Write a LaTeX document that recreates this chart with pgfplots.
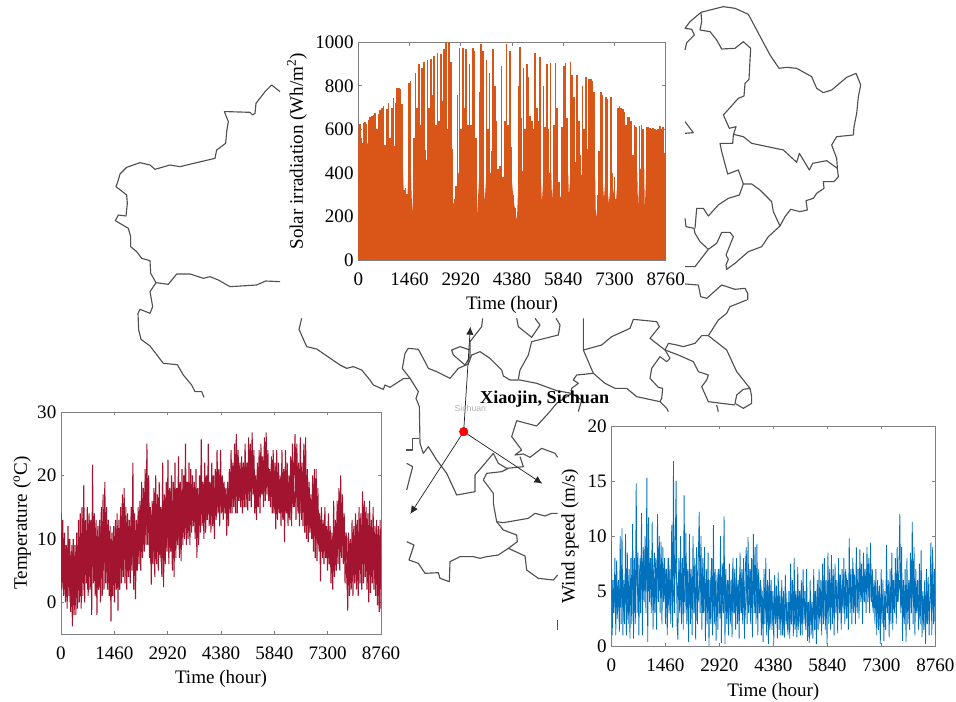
\documentclass[border=0pt]{standalone}
\usepackage{pgfplots}
\pgfplotsset{compat=1.18}
\usepackage{fontspec}
\setmainfont{Liberation Serif}
\newfontfamily\sansf{Liberation Sans}
\usetikzlibrary{arrows.meta}
\definecolor{mapc}{HTML}{505050}
\definecolor{axc}{HTML}{808080}
\definecolor{solarc}{HTML}{DA5518}
\definecolor{tempc}{HTML}{A2142F}
\definecolor{windc}{HTML}{0072BD}
\pgfplotsset{
 mp/.style={mapc,solid,line width=0.85pt,no markers,line join=round},
 mapaxis/.style={hide axis,scale only axis,clip=false,width=717pt,height=526.5pt,y dir=reverse,
   anchor=south west,at={(0pt,0pt)}},
 chart/.style={scale only axis,anchor=south west,xmin=0,xmax=8760,
   xtick={0,1460,2920,4380,5840,7300,8760},
   xticklabel style={/pgf/number format/fixed,/pgf/number format/1000 sep={},/pgf/number format/assume math mode=true,yshift=-6pt},
   yticklabel style={/pgf/number format/fixed,/pgf/number format/1000 sep={},/pgf/number format/assume math mode=true},
   scaled ticks=false,
   tick align=inside,major tick length=2.6pt,
   axis line style={axc,line width=0.6pt},
   tick style={axc,line width=0.5pt},
   tick label style={font=\fontsize{14.3}{16}\selectfont,black},
   label style={font=\fontsize{14.3}{16}\selectfont,black},
   xlabel={Time (hour)},
   xlabel style={at={(axis description cs:0.5,0)},yshift=-24pt,anchor=north},
   clip=true,
   axis background/.style={fill=white}}
}
\begin{document}
\begin{tikzpicture}
\path[use as bounding box] (0,0) rectangle (717pt,526.5pt);
% --- map, west part (coordinates: crop 100,70 at 3x)
\begin{axis}[mapaxis,xmin=-300,xmax=2568,ymin=-210,ymax=1896]
\addplot[mp] coordinates {(540,65)(515,45)(495,65)(468,100)(465,130)(458,135)(450,127)(385,125)(373,125)(385,155)(380,185)(377,220)(350,240)(345,265)(290,278)(240,290)(210,285)(165,298)(150,285)(120,278)(80,292)(60,312)(55,330)(48,350)(80,375)(82,400)(78,438)(55,435)(46,452)(85,475)(92,500)(92,530)(110,545)(125,565)(150,572)(152,610)(168,638)};
\addplot[mp] coordinates {(168,638)(205,643)(230,612)(270,612)(310,625)(330,620)(355,630)(390,650)(470,645)(497,633)(540,635)};
\addplot[mp] coordinates {(168,638)(150,665)(158,710)(150,730)(120,718)(114,730)(116,780)(123,808)(150,828)(190,880)(232,884)(250,915)(275,945)(285,965)(305,965)(312,982)};
\end{axis}
% --- map, north-east part (crop 680,0 at 3x)
\begin{axis}[mapaxis,xmin=-2040,xmax=828,ymin=0,ymax=2106]
\addplot[mp] coordinates {(15,150)(20,128)(43,105)(35,88)(15,85)(30,65)(63,37)(90,30)(130,20)(165,25)(205,43)(230,90)(270,165)(297,205)(320,202)(350,205)(395,230)(410,265)(430,278)(455,270)(500,232)(528,220)(542,255)(535,290)(530,340)(522,380)(520,405)(470,410)(455,435)(470,475)(472,505)(475,530)(462,545)(430,545)(432,565)(410,580)(400,595)(378,602)(382,630)(360,635)(332,628)(315,650)(300,678)(265,710)(245,740)(205,755)(165,790)(140,808)(138,795)(145,778)(138,765)(160,710)(150,697)(125,697)(110,730)(85,748)(60,725)(45,700)(42,685)(18,680)(15,655)};
\addplot[mp] coordinates {(63,37)(65,65)(60,90)(90,95)(110,120)(125,147)(165,145)(190,125)(212,145)(210,180)(207,238)(195,250)(192,288)(175,295)(130,345)(148,385)(168,380)(160,405)(158,430)(120,430)(125,455)(143,522)(175,510)(190,552)(178,585)(145,595)(115,615)(85,648)(70,625)(50,625)(45,685)};
\addplot[mp] coordinates {(160,403)(190,410)(215,430)(310,450)(350,487)(358,460)(388,510)(398,490)(440,482)(472,505)};
\addplot[mp] coordinates {(190,552)(215,552)(240,570)(275,605)(280,635)(300,678)};
\addplot[mp] coordinates {(85,748)(45,800)(15,800)};
\addplot[mp] coordinates {(15,365)(40,398)(15,400)};
\addplot[mp] coordinates {(15,852)(55,855)(62,890)(80,895)(125,855)(165,868)(195,865)(203,880)(203,900)};
\end{axis}
% --- map, centre (crop 290,300 at 3x)
\begin{axis}[mapaxis,xmin=-870,xmax=1998,ymin=-900,ymax=1206]
\addplot[mp] coordinates {(35,55)(27,88)(50,140)(80,147)(150,195)(170,205)(190,200)(215,210)(240,240)(250,255)(280,268)(285,255)(300,262)(340,236)(360,235)};
\addplot[mp] coordinates {(360,235)(337,205)(345,160)(355,145)(385,148)(405,185)(415,205)(440,215)(480,235)(505,205)(535,192)(545,165)(570,155)(600,175)(635,210)(640,228)(660,240)(690,240)(740,250)(800,272)(845,280)(800,310)(775,340)(740,378)(680,362)(665,410)(695,450)(675,465)(700,462)(720,472)(755,445)(795,460)(803,472)};
\addplot[mp] coordinates {(360,235)(385,275)(378,295)(388,320)(390,430)(400,460)(415,440)(440,480)(470,520)(500,585)(555,575)(555,525)(585,490)(610,460)(625,490)(650,505)(700,500)(690,470)};
\addplot[mp] coordinates {(348,450)(368,450)(368,415)(388,415)};
\addplot[mp] coordinates {(350,490)(368,500)(350,570)};
\addplot[mp] coordinates {(655,505)(635,515)(590,520)(580,540)(610,580)(610,610)(620,665)(640,668)(715,655)(735,640)(765,648)(785,640)(803,640)};
\addplot[mp] coordinates {(620,665)(640,690)(680,705)(682,725)(655,745)(625,765)(590,770)(570,775)(550,770)(510,770)(480,785)(478,845)(450,835)(445,818)(405,820)(385,790)(357,780)(372,735)(350,725)};
\addplot[mp] coordinates {(655,745)(705,768)(710,810)(745,835)(790,840)(803,825)};
\addplot[mp] coordinates {(578,55)(575,80)(540,125)(540,170)(525,195)(490,165)(485,150)(510,140)(540,150)};
\addplot[mp] coordinates {(680,55)(685,80)(725,112)(750,75)(735,55)};
\addplot[mp] coordinates {(798,55)(810,75)(805,105)(725,125)(715,165)(690,210)(685,238)};
\addplot[mp] coordinates {(880,55)(880,150)(935,135)(965,110)(1020,85)(1030,58)(1100,65)(1108,80)(1080,115)(1125,150)(1135,130)(1160,135)(1180,140)(1215,130)(1235,107)(1255,107)(1310,150)(1340,215)(1380,265)(1385,290)(1385,310)(1360,325)(1335,310)(1340,285)(1360,268)(1380,265)};
\addplot[mp] coordinates {(880,150)(910,220)(945,250)(975,265)(1010,265)(1040,290)(1110,305)(1130,325)(1135,335)};
\addplot[mp] coordinates {(910,220)(860,225)(850,240)(865,250)(845,265)(845,280)(875,300)(865,335)};
\addplot[mp] coordinates {(1125,150)(1140,175)(1130,185)(1110,170)(1085,205)(1080,235)(1105,262)(1118,265)(1115,295)(1110,305)};
\addplot[mp] coordinates {(1125,150)(1165,165)(1210,185)(1225,215)(1255,225)(1250,240)(1235,260)(1255,305)(1335,315)};
\addplot[mp] coordinates {(1280,315)(1285,335)};
\addplot[mp] coordinates {(1255,107)(1285,60)(1310,40)(1320,20)(1370,0)};
\addplot[mp] coordinates {(802,960)(802,990)};
% arrows and site
\addplot[black!85,line width=0.55pt,-{Latex[length=6pt,width=5.5pt]}] coordinates {(521,395)(541,80)};
\addplot[black!85,line width=0.55pt,-{Latex[length=6pt,width=5.5pt]}] coordinates {(521,395)(361,642)};
\addplot[black!85,line width=0.55pt,-{Latex[length=6pt,width=5.5pt]}] coordinates {(521,395)(757,551)};
\addplot[only marks,mark=*,mark size=3.2pt,mark options={fill=red,draw=red}] coordinates {(521,395)};
\node[font=\fontsize{6.5}{8}\sansf,text=gray!60] at (axis cs:541,325) {Sichuan};
\node[font=\fontsize{13.6}{15}\bfseries\selectfont,text=black] at (axis cs:764,298) {Xiaojin, Sichuan};
\end{axis}
% --- solar irradiation
\begin{axis}[chart,at={(268.7pt,331.5pt)},width=230.6pt,height=163.3pt,ymin=0,ymax=1000,ytick={0,200,400,600,800,1000},
 ylabel={Solar irradiation (Wh/m\textsuperscript{2})},ylabel style={at={(axis description cs:0,0.5)},yshift=35pt,anchor=south}]
\addplot[solarc,fill=solarc,draw=none,no markers] coordinates {(0,540)(1250,520)(1300,290)(1400,290)(1450,480)(1500,400)(1540,200)(1590,450)(2650,480)(2700,260)(2800,260)(2850,400)(3300,430)(3380,190)(3450,400)(3570,400)(3600,260)(3650,400)(3950,400)(4000,380)(4130,360)(4200,400)(4350,420)(4420,280)(4520,180)(4570,400)(5000,430)(5200,400)(5230,260)(5280,400)(5500,400)(5520,270)(5570,400)(5700,340)(5780,270)(5850,400)(5980,400)(6000,290)(6050,400)(6750,380)(6770,190)(6850,280)(6950,400)(7000,280)(7050,400)(7140,260)(7200,370)(7340,260)(7400,400)(7950,400)(7970,240)(8020,420)(8150,420)(8160,220)(8210,430)(8760,450)(8760,0)(0,0)};
\addplot[ycomb,solarc,line width=1.2pt,no markers] coordinates {(0,620)(48,625)(96,560)(144,630)(192,632)(240,625)(288,645)(336,655)(384,660)(432,665)(480,675)(528,600)(576,670)(624,690)(672,700)(720,705)(768,500)(816,695)(864,720)(912,560)(960,700)(1008,745)(1056,720)(1104,790)(1152,790)(1200,785)(1248,715)(1296,320)(1344,330)(1392,305)(1440,815)(1488,820)(1536,230)(1584,560)(1632,860)(1680,700)(1728,900)(1776,620)(1824,880)(1872,910)(1920,505)(1968,920)(2016,700)(2064,925)(2112,760)(2160,935)(2208,620)(2256,950)(2304,640)(2352,945)(2400,730)(2448,970)(2496,1000)(2544,600)(2592,1000)(2640,910)(2688,510)(2736,280)(2784,340)(2832,760)(2880,975)(2928,600)(2976,975)(3024,700)(3072,970)(3120,620)(3168,900)(3216,620)(3264,975)(3312,960)(3360,560)(3408,210)(3456,770)(3504,990)(3552,960)(3600,280)(3648,920)(3696,600)(3744,860)(3792,500)(3840,970)(3888,800)(3936,640)(3984,420)(4032,430)(4080,890)(4128,380)(4176,640)(4224,990)(4272,620)(4320,960)(4368,520)(4416,300)(4464,240)(4512,190)(4560,800)(4608,980)(4656,650)(4704,880)(4752,600)(4800,900)(4848,840)(4896,660)(4944,640)(4992,600)(5040,950)(5088,700)(5136,640)(5184,930)(5232,280)(5280,800)(5328,610)(5376,900)(5424,600)(5472,905)(5520,290)(5568,620)(5616,905)(5664,700)(5712,360)(5760,290)(5808,610)(5856,890)(5904,905)(5952,650)(6000,310)(6048,910)(6096,850)(6144,750)(6192,450)(6240,850)(6288,640)(6336,480)(6384,800)(6432,600)(6480,840)(6528,510)(6576,830)(6624,830)(6672,820)(6720,770)(6768,200)(6816,300)(6864,500)(6912,770)(6960,760)(7008,290)(7056,750)(7104,740)(7152,270)(7200,750)(7248,400)(7296,380)(7344,280)(7392,700)(7440,705)(7488,700)(7536,695)(7584,680)(7632,620)(7680,655)(7728,655)(7776,640)(7824,480)(7872,620)(7920,610)(7968,260)(8016,615)(8064,620)(8112,600)(8160,230)(8208,610)(8256,610)(8304,605)(8352,600)(8400,605)(8448,600)(8496,595)(8544,600)(8592,615)(8640,600)(8688,610)(8736,490)(8760,615)};
\end{axis}
% --- temperature
\begin{axis}[chart,at={(45.75pt,51pt)},width=240pt,height=166.5pt,ymin=-5,ymax=30,ytick={0,10,20,30},
 ylabel={Temperature (\textsuperscript{o}C)},ylabel style={at={(axis description cs:0,0.5)},yshift=19pt,anchor=south}]
\addplot[tempc,line width=0.8pt,no markers,line join=bevel] coordinates {(12,11)(60,3)(108,9)(156,2)(204,10)(252,0)(300,9)(348,1)(396,8)(444,2)(492,10)(540,1)(588,12)(636,3)(684,11)(732,2)(780,13)(828,3)(876,11)(924,4)(972,9)(1020,2)(1068,12)(1116,4)(1164,13)(1212,5)(1260,11)(1308,3)(1356,10)(1404,2)(1452,9)(1500,3)(1548,10)(1596,2)(1644,12)(1692,5)(1740,13)(1788,4)(1836,11)(1884,5)(1932,12)(1980,6)(2028,11)(2076,6)(2124,13)(2172,7)(2220,15)(2268,9)(2316,18)(2364,10)(2412,15)(2460,6)(2508,12)(2556,7)(2604,14)(2652,8)(2700,13)(2748,6)(2796,15)(2844,7)(2892,14)(2940,9)(2988,15)(3036,8)(3084,16)(3132,9)(3180,15)(3228,10)(3276,17)(3324,11)(3372,18)(3420,12)(3468,17)(3516,12)(3564,18)(3612,13)(3660,17)(3708,10)(3756,16)(3804,12)(3852,19)(3900,13)(3948,18)(3996,13)(4044,19)(4092,13)(4140,18)(4188,14)(4236,19)(4284,15)(4332,18)(4380,15)(4428,19)(4476,15)(4524,17)(4572,14)(4620,20)(4668,15)(4716,21)(4764,16)(4812,22)(4860,16)(4908,21)(4956,16)(5004,22)(5052,17)(5100,22)(5148,17)(5196,23)(5244,18)(5292,21)(5340,16)(5388,21)(5436,17)(5484,23)(5532,17)(5580,23)(5628,18)(5676,21)(5724,16)(5772,20)(5820,15)(5868,20)(5916,15)(5964,19)(6012,14)(6060,19)(6108,13)(6156,20)(6204,14)(6252,19)(6300,14)(6348,21)(6396,15)(6444,20)(6492,14)(6540,20)(6588,13)(6636,19)(6684,12)(6732,17)(6780,11)(6828,15)(6876,10)(6924,14)(6972,9)(7020,13)(7068,8)(7116,11)(7164,7)(7212,11)(7260,7)(7308,10)(7356,6)(7404,9)(7452,5)(7500,12)(7548,7)(7596,14)(7644,8)(7692,13)(7740,7)(7788,9)(7836,2)(7884,9)(7932,3)(7980,10)(8028,4)(8076,11)(8124,4)(8172,11)(8220,5)(8268,13)(8316,6)(8364,11)(8412,3)(8460,12)(8508,4)(8556,10)(8604,3)(8652,9)(8700,1)(8748,9)};
\addplot[tempc,line width=0.8pt,no markers,line join=bevel] coordinates {(0,14)(24,2)(48,13)(72,1)(96,11)(120,0)(144,9)(168,-1)(192,12)(216,1)(240,10)(264,-1.5)(288,8)(312,-3.8)(336,10)(360,-2)(384,9)(408,-2)(432,11)(456,-1)(480,13)(504,0)(528,14)(552,-1)(576,15)(600,1)(624,18.5)(648,0)(672,13)(696,3)(720,15)(744,1)(768,14)(792,2)(816,13)(840,-2)(864,21.7)(888,3)(912,14)(936,1)(960,13)(984,-2)(1008,12)(1032,2)(1056,13)(1080,0)(1104,15)(1128,1)(1152,17)(1176,2)(1200,19)(1224,3)(1248,15)(1272,2)(1296,13)(1320,1)(1344,12)(1368,-3)(1392,11)(1416,1)(1440,12)(1464,0)(1488,13)(1512,2)(1536,14)(1560,-1.3)(1584,13)(1608,2)(1632,15)(1656,3)(1680,17)(1704,4)(1728,18)(1752,3)(1776,15)(1800,2)(1824,14)(1848,4)(1872,13)(1896,3)(1920,15)(1944,5)(1968,22)(1992,2)(2016,14)(2040,0.5)(2064,13)(2088,5)(2112,15)(2136,6)(2160,16)(2184,5)(2208,19)(2232,7)(2256,18)(2280,8)(2304,21)(2328,9)(2352,25)(2376,9)(2400,20)(2424,7)(2448,15)(2472,2.8)(2496,16)(2520,6)(2544,18)(2568,4)(2592,20)(2616,6)(2640,17)(2664,5)(2688,19)(2712,7)(2736,15)(2760,4)(2784,22)(2808,2.4)(2832,17)(2856,6)(2880,19)(2904,8)(2928,22.5)(2952,6)(2976,18)(3000,8)(3024,20)(3048,5)(3072,19)(3096,4)(3120,22)(3144,7)(3168,18)(3192,9)(3216,23)(3240,7)(3264,19)(3288,6.5)(3312,21)(3336,9)(3360,20)(3384,10)(3408,25)(3432,9)(3456,19)(3480,10)(3504,22)(3528,9)(3552,21)(3576,11)(3600,20)(3624,12)(3648,19)(3672,10)(3696,21)(3720,7)(3744,18)(3768,9)(3792,20)(3816,11)(3840,25.7)(3864,12)(3888,19)(3912,10)(3936,22)(3960,11)(3984,20)(4008,13)(4032,25)(4056,12)(4080,19)(4104,11)(4128,22)(4152,12)(4176,20)(4200,10)(4224,21)(4248,13)(4272,24)(4296,14)(4320,21)(4344,12)(4368,24)(4392,14)(4416,20)(4440,13)(4464,19)(4488,14)(4512,18)(4536,10.5)(4560,19)(4584,12)(4608,21)(4632,14)(4656,24)(4680,14)(4704,22)(4728,15)(4752,25)(4776,14)(4800,26.5)(4824,14)(4848,24)(4872,16)(4896,22)(4920,15)(4944,23)(4968,14)(4992,22)(5016,15)(5040,25)(5064,15)(5088,22)(5112,14.5)(5136,26)(5160,16)(5184,25)(5208,15)(5232,26.8)(5256,17)(5280,24)(5304,14)(5328,20)(5352,13)(5376,22)(5400,15)(5424,24)(5448,14)(5472,25)(5496,17)(5520,23)(5544,15)(5568,26)(5592,16)(5616,26.8)(5640,17)(5664,24)(5688,16)(5712,21)(5736,15)(5760,23)(5784,14)(5808,24)(5832,14)(5856,22)(5880,11.5)(5904,24)(5928,13)(5952,22)(5976,14)(6000,20)(6024,12)(6048,24)(6072,13)(6096,21)(6120,9.5)(6144,24)(6168,14)(6192,22)(6216,12)(6240,20)(6264,13)(6288,23)(6312,12)(6336,25)(6360,15)(6384,22)(6408,26.5)(6432,13)(6456,25)(6480,15)(6504,22)(6528,12)(6552,26)(6576,14)(6600,22)(6624,12)(6648,25)(6672,11)(6696,26)(6720,10)(6744,21)(6768,9.5)(6792,19)(6816,11)(6840,17)(6864,10)(6888,20)(6912,8)(6936,21)(6960,7)(6984,21)(7008,6.5)(7032,18)(7056,9)(7080,14)(7104,3.3)(7128,15)(7152,8)(7176,13)(7200,6)(7224,15)(7248,7)(7272,12)(7296,5)(7320,14)(7344,6)(7368,12)(7392,3)(7416,11)(7440,2)(7464,16)(7488,4)(7512,13)(7536,5)(7560,16)(7584,6)(7608,18)(7632,5)(7656,20)(7680,7)(7704,17)(7728,6)(7752,14)(7776,3)(7800,11)(7824,10)(7848,-1.3)(7872,11)(7896,1)(7920,10)(7944,2)(7968,13)(7992,1)(8016,12)(8040,3)(8064,14)(8088,2)(8112,13)(8136,1)(8160,15)(8184,3)(8208,14)(8232,2)(8256,17.5)(8280,3)(8304,16)(8328,4)(8352,15)(8376,2)(8400,14)(8424,0)(8448,16)(8472,1.5)(8496,13)(8520,3)(8544,15)(8568,2)(8592,12)(8616,1)(8640,13)(8664,-0.5)(8688,12)(8712,-1.5)(8736,13)(8760,-1)};
\end{axis}
% --- wind speed
\begin{axis}[chart,at={(458.5pt,41.8pt)},width=243pt,height=165.2pt,ymin=0,ymax=20,ytick={0,5,10,15,20},
 ylabel={Wind speed (m/s)},ylabel style={at={(axis description cs:0,0.5)},yshift=21pt,anchor=south}]
\addplot[windc,line width=0.6pt,no markers,line join=bevel] coordinates {(12,6)(60,3)(108,6.5)(156,2.5)(204,5.5)(252,3.5)(300,7)(348,2.5)(396,6)(444,3)(492,5.5)(540,3.5)(588,7)(636,3)(684,7.5)(732,4)(780,8)(828,5)(876,8.5)(924,5)(972,9)(1020,5.5)(1068,8)(1116,4.5)(1164,8.5)(1212,4)(1260,9)(1308,5)(1356,8)(1404,4)(1452,7)(1500,4.5)(1548,8)(1596,3.5)(1644,7.5)(1692,4)(1740,8)(1788,4.5)(1836,7)(1884,3.5)(1932,6.5)(1980,4)(2028,7.5)(2076,3)(2124,7)(2172,3.5)(2220,6)(2268,3)(2316,7)(2364,4)(2412,8)(2460,3)(2508,6.5)(2556,3.5)(2604,6)(2652,2.5)(2700,7)(2748,3)(2796,6)(2844,3.5)(2892,7)(2940,2.5)(2988,6)(3036,3)(3084,6.5)(3132,3.5)(3180,6)(3228,2.5)(3276,7)(3324,3)(3372,6)(3420,3.5)(3468,6.5)(3516,3)(3564,7)(3612,2.5)(3660,6)(3708,3)(3756,7)(3804,3.5)(3852,7)(3900,3)(3948,6.5)(3996,3.5)(4044,5.5)(4092,2)(4140,5)(4188,2.5)(4236,5.5)(4284,1.5)(4332,5)(4380,2)(4428,4.5)(4476,2.5)(4524,5)(4572,2)(4620,4.5)(4668,1.5)(4716,5)(4764,1.5)(4812,4)(4860,2)(4908,4.5)(4956,2)(5004,4)(5052,1.5)(5100,5)(5148,2)(5196,4.5)(5244,2.5)(5292,4)(5340,2)(5388,4.5)(5436,1.5)(5484,5)(5532,2.5)(5580,5.5)(5628,2.5)(5676,5)(5724,3)(5772,6)(5820,2.5)(5868,6)(5916,3.5)(5964,6.5)(6012,3)(6060,6)(6108,3.5)(6156,6.5)(6204,3)(6252,6)(6300,3.5)(6348,6.5)(6396,4)(6444,6)(6492,3.5)(6540,7)(6588,4)(6636,6)(6684,4.5)(6732,7)(6780,4.5)(6828,7)(6876,5)(6924,7.5)(6972,4.5)(7020,6.5)(7068,3.5)(7116,5.5)(7164,3)(7212,5)(7260,2.5)(7308,5)(7356,3)(7404,4.5)(7452,3.5)(7500,5.5)(7548,3)(7596,6)(7644,3.5)(7692,6.5)(7740,4)(7788,6)(7836,3.5)(7884,5.5)(7932,2.5)(7980,5)(8028,3.5)(8076,6)(8124,4)(8172,6.5)(8220,3)(8268,5)(8316,2.5)(8364,5.5)(8412,3)(8460,4.5)(8508,2)(8556,5)(8604,3)(8652,6)(8700,3)(8748,5)};
\addplot[windc,line width=0.6pt,no markers,line join=bevel] coordinates {(0,9.5)(24,1)(48,6)(72,3)(96,8)(120,1)(144,7.8)(168,3)(192,6)(216,1.3)(240,10)(264,2)(288,10.7)(312,1)(336,6)(360,2)(384,10.2)(408,1)(432,8.5)(456,2)(480,7)(504,0.7)(528,8)(552,2)(576,11.1)(600,0.7)(624,8)(648,2)(672,14.8)(696,3)(720,8.5)(744,1)(768,7)(792,3)(816,12.1)(840,1)(864,9)(888,4)(912,10)(936,3)(960,15.3)(984,0.4)(1008,11.7)(1032,4)(1056,8)(1080,3)(1104,11.3)(1128,1.5)(1152,7)(1176,3)(1200,8)(1224,1.5)(1248,12)(1272,4)(1296,10)(1320,3)(1344,9.5)(1368,2)(1392,9)(1416,4)(1440,8)(1464,2)(1488,7)(1512,1)(1536,8)(1560,3)(1584,7)(1608,2)(1632,11)(1656,1.7)(1680,16.8)(1704,3)(1728,9)(1752,15)(1776,2)(1800,0.6)(1824,8)(1848,3)(1872,10)(1896,2)(1920,8)(1944,1.5)(1968,13.7)(1992,3)(2016,10.3)(2040,2)(2064,7)(2088,0.4)(2112,10.2)(2136,2)(2160,7)(2184,1)(2208,10)(2232,3)(2256,8)(2280,0.6)(2304,9)(2328,2)(2352,8)(2376,12.2)(2400,3)(2424,10)(2448,1.5)(2472,8)(2496,3)(2520,9)(2544,0.5)(2568,7)(2592,2)(2616,8.5)(2640,0)(2664,6)(2688,2)(2712,8)(2736,1)(2760,11)(2784,2)(2808,7)(2832,0.5)(2856,6.5)(2880,1.5)(2904,7)(2928,3)(2952,10)(2976,0.3)(3000,7.5)(3024,3)(3048,11.8)(3072,0.2)(3096,7)(3120,2)(3144,6)(3168,1)(3192,7.5)(3216,2)(3240,6)(3264,0.8)(3288,8)(3312,3)(3336,7)(3360,1.5)(3384,8)(3408,2)(3432,6)(3456,0.7)(3480,8.5)(3504,3)(3528,7)(3552,2)(3576,8)(3600,0.7)(3624,7)(3648,9)(3672,2)(3696,9.9)(3720,3)(3744,7)(3768,2)(3792,8)(3816,0.8)(3840,10.2)(3864,3)(3888,9)(3912,2)(3936,9.3)(3960,1)(3984,7)(4008,3)(4032,6)(4056,1)(4080,5)(4104,0.4)(4128,7)(4152,2)(4176,8)(4200,1)(4224,6)(4248,0.2)(4272,7)(4296,2)(4320,6)(4344,1.5)(4368,5)(4392,0.3)(4416,6.5)(4440,2)(4464,5.5)(4488,0.7)(4512,6.7)(4536,1.5)(4560,5)(4584,1)(4608,6)(4632,1)(4656,5)(4680,0.8)(4704,6.5)(4728,2)(4752,4)(4776,1)(4800,5)(4824,0.7)(4848,7.5)(4872,2)(4896,6)(4920,0.9)(4944,8)(4968,1.5)(4992,5)(5016,0.8)(5040,7.2)(5064,2)(5088,5)(5112,1)(5136,6)(5160,1)(5184,7)(5208,2)(5232,5)(5256,1.5)(5280,7)(5304,0.5)(5328,4)(5352,0.3)(5376,6)(5400,1)(5424,4)(5448,0.7)(5472,7)(5496,1.5)(5520,5)(5544,0.2)(5568,6)(5592,1.5)(5616,7)(5640,2)(5664,6)(5688,1)(5712,7.5)(5736,2)(5760,8)(5784,1.5)(5808,6)(5832,0.2)(5856,8.5)(5880,2)(5904,7)(5928,1.5)(5952,8.3)(5976,2)(6000,7)(6024,1)(6048,7.5)(6072,3)(6096,6)(6120,1.2)(6144,8)(6168,3)(6192,6.5)(6216,1.5)(6240,7)(6264,3)(6288,8)(6312,2)(6336,7)(6360,2.5)(6384,6)(6408,1.5)(6432,9.8)(6456,3)(6480,7)(6504,2)(6528,8)(6552,3)(6576,6.5)(6600,2)(6624,9)(6648,3)(6672,7)(6696,2.5)(6720,8.8)(6744,4)(6768,7.5)(6792,2)(6816,8.5)(6840,4)(6864,7)(6888,3)(6912,9)(6936,4)(6960,8)(6984,3)(7008,9.4)(7032,4)(7056,7)(7080,3)(7104,6)(7128,2)(7152,7)(7176,1)(7200,6)(7224,1.5)(7248,5.5)(7272,0.2)(7296,7)(7320,2)(7344,6)(7368,0.5)(7392,5)(7416,1.5)(7440,9.2)(7464,3)(7488,6)(7512,0.8)(7536,7)(7560,2)(7584,8.5)(7608,1.5)(7632,6)(7656,3)(7680,8)(7704,2)(7728,9)(7752,4)(7776,7)(7800,12)(7824,3)(7848,9)(7872,0.5)(7896,6)(7920,2)(7944,7)(7968,0.4)(7992,8)(8016,2)(8040,6)(8064,1.5)(8088,8.5)(8112,3)(8136,11.3)(8160,2)(8184,9)(8208,1)(8232,7)(8256,3)(8280,6)(8304,1.5)(8328,7.5)(8352,2)(8376,8.7)(8400,0.8)(8424,5)(8448,1.5)(8472,6)(8496,0.2)(8520,7)(8544,2)(8568,6.3)(8592,1)(8616,5)(8640,9.4)(8664,1)(8688,9)(8712,2)(8736,7)(8760,1)};
\end{axis}
\end{tikzpicture}
\end{document}
